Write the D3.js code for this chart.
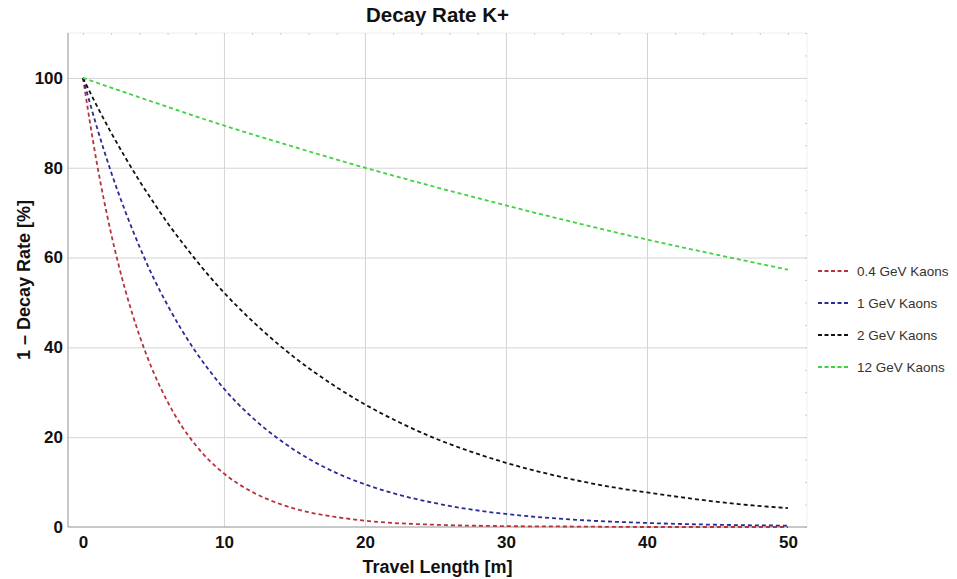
<!DOCTYPE html>
<html>
<head>
<meta charset="utf-8">
<script src="https://cdn.jsdelivr.net/npm/d3@7/dist/d3.min.js"></script>
<style>
    body { margin: 0; background: #fff; }
    svg { display: block; font-family: "Liberation Sans", Arial, sans-serif; }
    .tick-label { font-size: 17px; font-weight: bold; fill: #111; }
    .axis-title { font-size: 18px; font-weight: bold; fill: #111; }
    .legend-text { font-size: 13.5px; fill: #333; }
</style>
</head>
<body>
<div id="chart"></div>
<script>
(function () {
    "use strict";

    // values
    var seriesNames = ['0.4 GeV Kaons', '1 GeV Kaons', '2 GeV Kaons', '12 GeV Kaons'];
    var seriesColors = ['#b8323c', '#2b2b96', '#111111', '#3fd23f'];

    var xRed = [0, 1, 2, 3, 4, 5, 6, 7, 8, 9, 10, 12, 14, 16, 18, 20, 25, 30, 35, 40, 45, 50];
    var yRed = [100, 80.8, 65.3, 52.8, 42.7, 34.5, 27.9, 22.5, 18.2, 14.7, 11.9, 7.8, 5.1, 3.3, 2.2, 1.4, 0.5, 0.2, 0.1, 0, 0, 0];

    var xBlue = [0, 1, 2, 3, 4, 5, 6, 7, 8, 9, 10, 12, 14, 16, 18, 20, 22.5, 25, 27.5, 30, 35, 40, 45, 50];
    var yBlue = [100, 88.9, 79.0, 70.3, 62.5, 55.5, 49.4, 43.9, 39.0, 34.7, 30.8, 24.4, 19.3, 15.2, 12.0, 9.5, 7.1, 5.3, 3.9, 2.9, 1.6, 0.9, 0.5, 0.3];

    var xBlack = [0, 1, 2, 3, 4, 5, 6, 7, 8, 9, 10, 12, 14, 16, 18, 20, 22.5, 25, 27.5, 30, 32.5, 35, 37.5, 40, 42.5, 45, 47.5, 50];
    var yBlack = [100, 93.7, 87.8, 82.3, 77.1, 72.3, 67.7, 63.5, 59.5, 55.7, 52.2, 45.9, 40.3, 35.4, 31.1, 27.3, 23.2, 19.7, 16.8, 14.3, 12.2, 10.4, 8.9, 7.7, 6.6, 5.6, 4.8, 4.2];

    var xGreen = [0, 5, 10, 15, 20, 25, 30, 35, 40, 45, 50];
    var yGreen = [100, 94.6, 89.4, 84.6, 80.0, 75.7, 71.6, 67.7, 64.0, 60.6, 57.3];

    var xTicks = [0, 10, 20, 30, 40, 50];
    var yTicks = [0, 20, 40, 60, 80, 100];

    var seriesX = [xRed, xBlue, xBlack, xGreen];
    var seriesY = [yRed, yBlue, yBlack, yGreen];

    var width = 957, height = 579;
    var plot = { left: 68, right: 807, top: 33, bottom: 527 };

    var svg = d3.select('#chart').append('svg')
        .attr('width', width)
        .attr('height', height);

    var x = d3.scaleLinear().domain([-1.06, 51.35]).range([plot.left, plot.right]);
    var y = d3.scaleLinear().domain([0, 110]).range([plot.bottom, plot.top]);

    // faint frame on top / right
    svg.append('rect')
        .attr('x', plot.left).attr('y', plot.top)
        .attr('width', plot.right - plot.left).attr('height', plot.bottom - plot.top)
        .attr('fill', 'none').attr('stroke', '#f0f0f0');

    // minor ticks on top and right edges
    svg.append('g')
        .attr('transform', 'translate(0,' + plot.top + ')')
        .call(d3.axisBottom(x).tickValues(d3.range(0, 51, 2)).tickSize(2).tickFormat(''))
        .call(function (g) {
            g.select('.domain').remove();
            g.selectAll('line').attr('stroke', '#ccc');
        });
    svg.append('g')
        .attr('transform', 'translate(' + plot.right + ',0)')
        .call(d3.axisLeft(y).tickValues(d3.range(0, 111, 5)).tickSize(2).tickFormat(''))
        .call(function (g) {
            g.select('.domain').remove();
            g.selectAll('line').attr('stroke', '#ccc');
        });

    // grid
    svg.append('g')
        .attr('transform', 'translate(0,' + plot.bottom + ')')
        .call(d3.axisBottom(x).tickValues([10, 20, 30, 40]).tickSize(-(plot.bottom - plot.top)).tickFormat(''))
        .call(function (g) {
            g.select('.domain').remove();
            g.selectAll('line').attr('stroke', '#d4d4d4');
        });
    svg.append('g')
        .attr('transform', 'translate(' + plot.left + ',0)')
        .call(d3.axisLeft(y).tickValues([20, 40, 60, 80, 100]).tickSize(-(plot.right - plot.left)).tickFormat(''))
        .call(function (g) {
            g.select('.domain').remove();
            g.selectAll('line').attr('stroke', '#d4d4d4');
        });

    // axes
    var xAxis = svg.append('g')
        .attr('transform', 'translate(0,' + plot.bottom + ')')
        .call(d3.axisBottom(x).tickValues(xTicks).tickSize(0).tickPadding(9));
    xAxis.select('.domain').attr('stroke', '#999').attr('d', 'M' + plot.left + ',0H' + plot.right);
    xAxis.selectAll('text').attr('class', 'tick-label').attr('font-size', null).attr('font-family', null);

    var yAxis = svg.append('g')
        .attr('transform', 'translate(' + plot.left + ',0)')
        .call(d3.axisLeft(y).tickValues(yTicks).tickSize(0).tickPadding(5));
    yAxis.select('.domain').attr('stroke', '#999').attr('d', 'M0,' + plot.top + 'V' + plot.bottom);
    yAxis.selectAll('text').attr('class', 'tick-label').attr('font-size', null).attr('font-family', null);

    // curves
    var line = d3.line()
        .x(function (d) { return x(d[0]); })
        .y(function (d) { return y(d[1]); })
        .curve(d3.curveMonotoneX);

    seriesNames.forEach(function (name, i) {
        var pts = seriesX[i].map(function (v, j) { return [v, seriesY[i][j]]; });
        svg.append('path')
            .datum(pts)
            .attr('d', line)
            .attr('fill', 'none')
            .attr('stroke', seriesColors[i])
            .attr('stroke-width', 1.8)
            .attr('stroke-dasharray', '4,3');
    });

    // titles
    svg.append('text')
        .attr('x', (plot.left + plot.right) / 2).attr('y', 22)
        .attr('text-anchor', 'middle')
        .attr('font-size', 20.5).attr('font-weight', 'bold').attr('fill', '#111')
        .text('Decay Rate K+');

    svg.append('text')
        .attr('class', 'axis-title')
        .attr('x', (plot.left + plot.right) / 2).attr('y', 573)
        .attr('text-anchor', 'middle')
        .text('Travel Length [m]');

    svg.append('text')
        .attr('class', 'axis-title')
        .attr('transform', 'translate(30,' + (plot.top + plot.bottom) / 2 + ') rotate(-90)')
        .attr('text-anchor', 'middle')
        .text('1 \u2013 Decay Rate [%]');

    // legend
    var legend = svg.append('g').attr('transform', 'translate(818,271)');
    seriesNames.forEach(function (name, i) {
        var g = legend.append('g').attr('transform', 'translate(0,' + (i * 32) + ')');
        g.append('line')
            .attr('x1', 0).attr('x2', 30).attr('y1', 0).attr('y2', 0)
            .attr('stroke', seriesColors[i])
            .attr('stroke-width', 1.8)
            .attr('stroke-dasharray', '4,2.5');
        g.append('text')
            .attr('class', 'legend-text')
            .attr('x', 39).attr('y', 5)
            .text(name);
    });
})();
</script>
</body>
</html>
